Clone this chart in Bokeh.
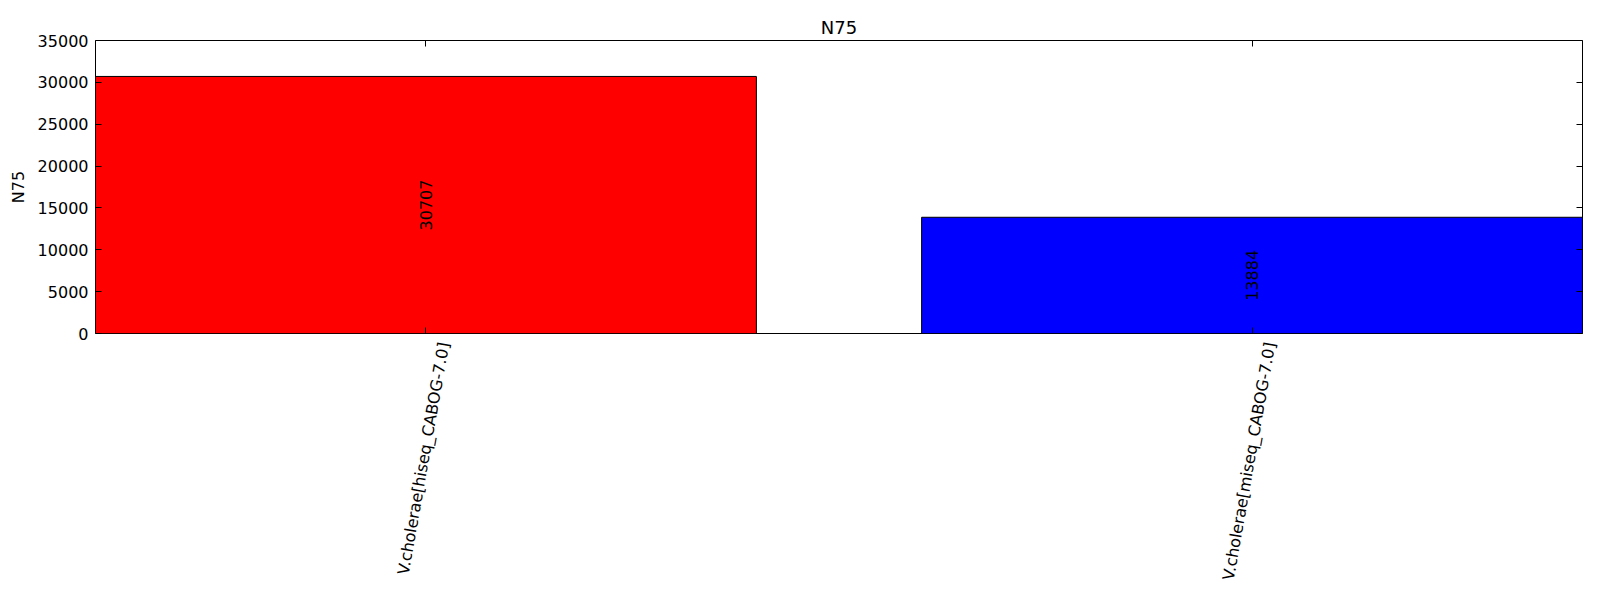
import math
from bokeh.plotting import figure
from bokeh.models import LinearAxis, FixedTicker, Range1d, ColumnDataSource
from bokeh.core.properties import value
from bokeh.embed import file_html
from bokeh.resources import INLINE

categories = ["V.cholerae[hiseq_CABOG-7.0]", "V.cholerae[miseq_CABOG-7.0]"]
n75_values = [30707, 13884]
bar_colors = ["red", "blue"]
y_ticks = [0, 5000, 10000, 15000, 20000, 25000, 30000, 35000]

FONT = "DejaVu Sans"
bar_w = 4.0
step = 5.0
xs = [i * step + bar_w / 2 for i in range(len(categories))]
x_max = xs[-1] + bar_w / 2

FW, FH = 1487, 293
BL, BR, BT, BB = 95, 2, 40, 249
# shift so the rotated label is centred on its tick (as in the reference)
label_shift = 18 * x_max / FW

src = ColumnDataSource(dict(
    x=xs, top=n75_values, color=bar_colors,
    mid=[v / 2 for v in n75_values],
    txt=[str(v) for v in n75_values],
))

p = figure(frame_width=FW, frame_height=FH, output_backend="svg", toolbar_location=None,
           x_range=Range1d(0, x_max), y_range=Range1d(0, 35000),
           min_border_left=BL, min_border_right=BR, min_border_top=BT, min_border_bottom=BB,
           x_axis_type=None, y_axis_type=None)
p.grid.visible = False
p.outline_line_color = "black"
p.outline_line_width = 1
p.background_fill_color = "white"
p.border_fill_color = "white"

p.title.text = "N75"
p.title.align = "center"
p.title.text_font = FONT
p.title.text_font_size = "18px"
p.title.text_font_style = "normal"
p.title.text_color = "black"
p.title.standoff = 5

def style_axis(ax, labels=True, ticks=True):
    ax.axis_line_color = None
    ax.major_tick_in = 6 if ticks else 0
    ax.major_tick_out = 0
    ax.minor_tick_line_color = None
    ax.major_tick_line_color = "black" if ticks else None
    ax.major_label_text_font = FONT
    ax.major_label_text_font_size = "16px"
    ax.major_label_text_color = "black"
    if not labels:
        ax.major_label_text_color = None
        ax.major_label_standoff = 0
        ax.major_label_overrides = {t: "" for t in ax.ticker.ticks}

xt = FixedTicker(ticks=xs)
yt = FixedTicker(ticks=y_ticks)

bottom = LinearAxis(ticker=xt)
style_axis(bottom, labels=False)
p.add_layout(bottom, "below")

label_ticks = [x + label_shift for x in xs]
bottom_labels = LinearAxis(ticker=FixedTicker(ticks=label_ticks))
style_axis(bottom_labels, ticks=False)
bottom_labels.major_label_overrides = {x: c for x, c in zip(label_ticks, categories)}
bottom_labels.major_label_orientation = math.radians(80)
bottom_labels.major_label_standoff = 9
p.add_layout(bottom_labels, "below")

top = LinearAxis(ticker=xt)
style_axis(top, labels=False)
p.add_layout(top, "above")

left = LinearAxis(ticker=yt, axis_label="N75")
style_axis(left)
left.major_label_standoff = 7
left.axis_label_text_font = FONT
left.axis_label_text_font_size = "16px"
left.axis_label_text_font_style = "normal"
left.axis_label_text_color = "black"
left.axis_label_standoff = 7
p.add_layout(left, "left")

right = LinearAxis(ticker=yt)
style_axis(right, labels=False)
p.add_layout(right, "right")

p.vbar(x="x", top="top", width=bar_w, bottom=0, fill_color="color",
       line_color="black", line_width=1, source=src)
p.text(x="x", y="mid", text="txt", angle=math.pi / 2, text_align="center",
       text_baseline="middle", text_font=value(FONT), text_font_size="16px",
       text_color="black", source=src)

open("out.html", "w").write(file_html(p, INLINE))
